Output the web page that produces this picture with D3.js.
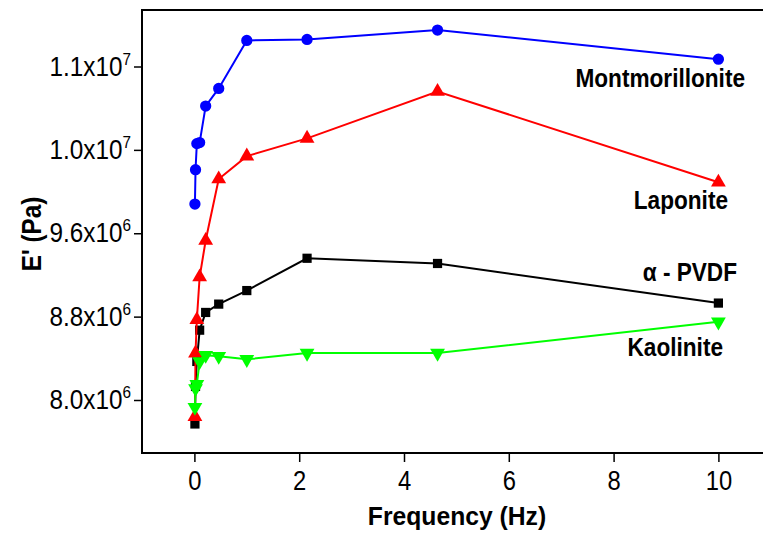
<!DOCTYPE html>
<html>
<head>
<meta charset="utf-8">
<script src="https://cdn.jsdelivr.net/npm/d3@7"></script>
<style>
  body { margin: 0; background: #fff; }
  svg { display: block; font-family: "Liberation Sans", Arial, sans-serif; }
</style>
</head>
<body>
<div id="chart"></div>
<script>
// frequency (Hz)
let freq = [0.01, 0.0215, 0.0464, 0.1, 0.215, 0.464, 1, 2.15, 4.64, 10];

// E' (Pa)
let pvdf = [7.77e6, 8.13e6, 8.37e6, 8.67e6, 8.84e6, 8.92e6, 9.05e6, 9.36e6, 9.31e6, 8.93e6];
let laponite = [7.84e6, 8.45e6, 8.77e6, 9.18e6, 9.53e6, 10.12e6, 10.34e6, 10.51e6, 10.96e6, 10.09e6];
let montmorillonite = [9.88e6, 10.21e6, 10.46e6, 10.47e6, 10.82e6, 10.99e6, 11.45e6, 11.46e6, 11.55e6, 11.27e6];
let kaolinite = [7.93e6, 8.11e6, 8.15e6, 8.37e6, 8.43e6, 8.42e6, 8.39e6, 8.45e6, 8.45e6, 8.75e6];

let xTicks = [0, 2, 4, 6, 8, 10];
let yTicks = [8.0e6, 8.8e6, 9.6e6, 10.4e6, 11.2e6];
let yTickMantissa = ["8.0", "8.8", "9.6", "1.0", "1.1"];
let yTickExponent = ["6", "6", "6", "7", "7"];

let seriesNames = ["\u03b1 - PVDF", "Laponite", "Montmorillonite", "Kaolinite"];

let width = 763, height = 539;
let margin = { top: 10, left: 142, bottom: 453 };

let svg = d3.select('#chart').append('svg')
    .attr('width', width)
    .attr('height', height)

let xScale = d3.scaleLinear()
    .domain([-1, 11])
    .range([margin.left, margin.left + 12 * 52.4])

let yScale = d3.scaleLinear()
    .domain([8.0e6, 11.2e6])
    .range([400, 66.5])

// frame (right edge is cropped off in the original)
svg.append('rect')
    .attr('x', margin.left)
    .attr('y', margin.top)
    .attr('width', 700)
    .attr('height', margin.bottom - margin.top)
    .style('fill', 'none')
    .style('stroke', '#000')
    .style('stroke-width', 2)

// x axis
let hAxis = d3.axisBottom(xScale)
    .tickValues(xTicks)
    .tickSize(9)
    .tickFormat(d3.format('d'))
let horizontalGuide = svg.append('g')
    .attr('transform', 'translate(0, ' + margin.bottom + ')')
    .call(hAxis)
horizontalGuide.select('.domain').remove()
horizontalGuide.selectAll('line').style('stroke', '#000').style('stroke-width', 1.5)
horizontalGuide.selectAll('text')
    .attr('y', 0)
    .attr('dy', 0)
    .attr('transform', 'translate(0,37) scale(0.88,1)')
    .style('font-size', '27px')
    .style('font-family', '"Liberation Sans", Arial, sans-serif')
    .style('fill', '#000')

// y axis
let vAxis = d3.axisLeft(yScale)
    .tickValues(yTicks)
    .tickSize(8)
    .tickFormat('')
let verticalGuide = svg.append('g')
    .attr('transform', 'translate(' + margin.left + ', 0)')
    .call(vAxis)
verticalGuide.select('.domain').remove()
verticalGuide.selectAll('line').style('stroke', '#000').style('stroke-width', 1.5)

yTicks.forEach(function (v, i) {
    let t = svg.append('text')
        .attr('x', 0)
        .attr('y', 0)
        .attr('text-anchor', 'end')
        .attr('transform', 'translate(131,' + (yScale(v) + 9) + ') scale(0.9,1)')
        .style('font-size', '27px')
    t.append('tspan').text(yTickMantissa[i] + 'x10')
    t.append('tspan').attr('dy', -11).style('font-size', '17px').text(yTickExponent[i])
})

// axis titles
svg.append('text')
    .attr('transform', 'translate(457,525) scale(0.95,1)')
    .attr('text-anchor', 'middle')
    .style('font-size', '26px')
    .style('font-weight', 'bold')
    .text('Frequency (Hz)')

svg.append('text')
    .attr('transform', 'translate(41,234) rotate(-90) scale(0.9,1)')
    .attr('text-anchor', 'middle')
    .style('font-size', '27px')
    .style('font-weight', 'bold')
    .text("E' (Pa)")

// series
let series = [
    { values: pvdf, color: '#000000', symbol: d3.symbolSquare, size: 85, rot: 0, label: [737, 281] },
    { values: laponite, color: '#ff0000', symbol: d3.symbolTriangle, size: 95, rot: 0, label: [728, 209] },
    { values: montmorillonite, color: '#0000ff', symbol: d3.symbolCircle, size: 100, rot: 0, label: [745, 87] },
    { values: kaolinite, color: '#00ff00', symbol: d3.symbolTriangle, size: 95, rot: 180, label: [723, 356] }
];

let line = d3.line()
    .x(function (d) { return xScale(d[0]); })
    .y(function (d) { return yScale(d[1]); })

series.forEach(function (s, k) {
    let pts = freq.map(function (f, i) { return [f, s.values[i]]; });
    svg.append('path')
        .attr('d', line(pts))
        .style('fill', 'none')
        .style('stroke', s.color)
        .style('stroke-width', 2)
    svg.selectAll('.m' + k).data(pts)
        .enter().append('path')
        .attr('class', 'm' + k)
        .attr('d', d3.symbol().type(s.symbol).size(s.size))
        .attr('transform', function (d) {
            return 'translate(' + xScale(d[0]) + ',' + yScale(d[1]) + ') rotate(' + s.rot + ')';
        })
        .style('fill', s.color)

    svg.append('text')
        .attr('text-anchor', 'end')
        .attr('transform', 'translate(' + s.label[0] + ',' + s.label[1] + ') scale(0.87,1)')
        .style('font-size', '26px')
        .style('font-weight', 'bold')
        .text(seriesNames[k])
})
</script>
</body>
</html>
